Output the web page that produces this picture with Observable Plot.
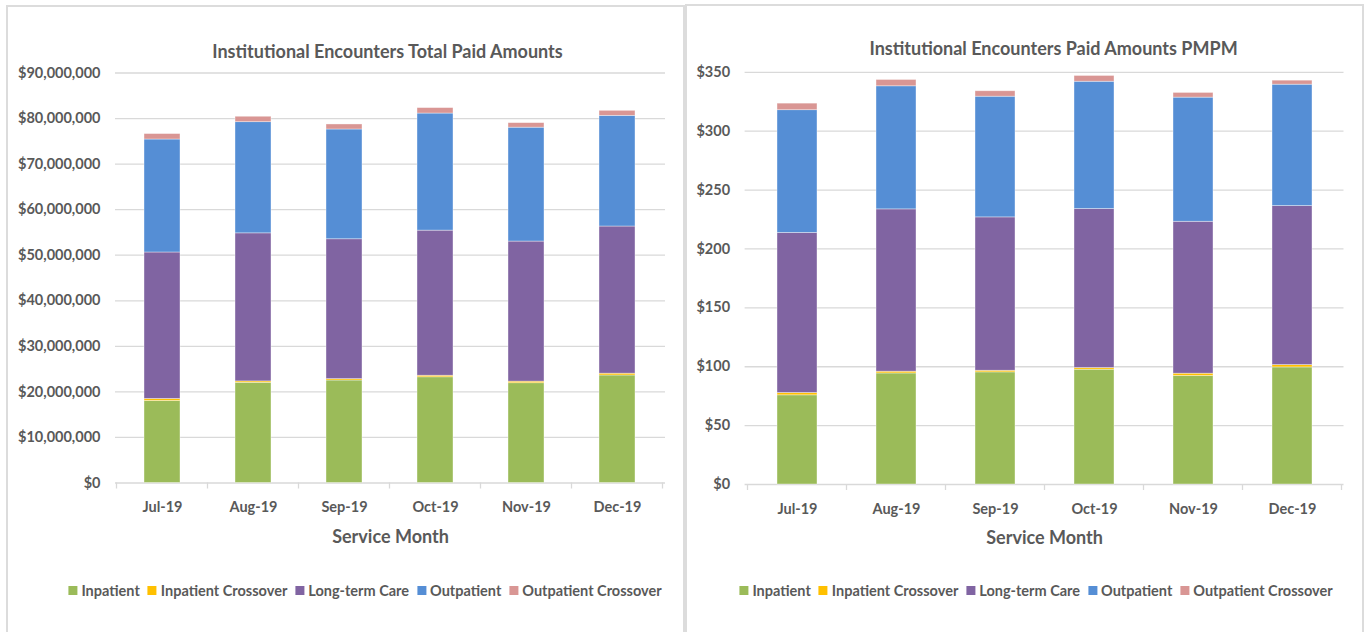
<!DOCTYPE html>
<html><head><meta charset="utf-8">
<script src="https://cdn.jsdelivr.net/npm/d3@7"></script>
<script src="https://cdn.jsdelivr.net/npm/@observablehq/plot@0.6"></script>
<style>
body{margin:0;background:#fff;width:1372px;height:632px;overflow:hidden;position:relative;font-family:Lato,"Open Sans",sans-serif;}
.panel{position:absolute;border:2px solid #dcdcdc;box-sizing:border-box;}
.chart{position:absolute;top:0;}
.legend{position:absolute;top:582px;display:flex;align-items:center;font-weight:700;font-size:14.5px;line-height:17px;color:#595959;white-space:nowrap;transform:translateX(-50%);}
.legend .sw{display:inline-block;width:9px;height:9px;margin-right:4px}
.legend .it{display:inline-flex;align-items:center;margin-right:8px}
.legend .it:last-child{margin-right:0}
</style></head><body>
<div class="panel" style="left:6px;top:5px;width:679px;height:700px"></div>
<div class="panel" style="left:685px;top:4px;width:679px;height:700px"></div>
<div id="c1" class="chart" style="left:0px"></div>
<div id="c2" class="chart" style="left:686px"></div>
<div id="l1" class="legend" style="left:365px"></div>
<div id="l2" class="legend" style="left:1036px"></div>
<script>
const months = ["Jul-19","Aug-19","Sep-19","Oct-19","Nov-19","Dec-19"];
const series = ["Inpatient","Inpatient Crossover","Long-term Care","Outpatient","Outpatient Crossover"];
const colors = ["#9bbb59","#ffc000","#8064a2","#558ed5","#d99694"];

// Total paid amounts (dollars)
const totalInpatient = [18000000, 22000000, 22500000, 23200000, 21900000, 23600000];
const totalInpatientCrossover = [450000, 300000, 300000, 350000, 350000, 400000];
const totalLongTermCare = [32150000, 32500000, 30700000, 31850000, 30750000, 32300000];
const totalOutpatient = [24800000, 24400000, 24100000, 25700000, 25000000, 24300000];
const totalOutpatientCrossover = [1200000, 1200000, 1100000, 1200000, 1000000, 1100000];
const totalTicks = [0,10000000,20000000,30000000,40000000,50000000,60000000,70000000,80000000,90000000];

// PMPM amounts (dollars)
const pmpmInpatient = [75.7, 94.3, 95.2, 97.5, 92.1, 99.4];
const pmpmInpatientCrossover = [2.0, 1.5, 1.4, 1.4, 2.0, 2.0];
const pmpmLongTermCare = [135.9, 137.8, 130.2, 135.0, 129.0, 135.0];
const pmpmOutpatient = [104.2, 104.5, 102.5, 108.1, 105.4, 103.1];
const pmpmOutpatientCrossover = [5.6, 5.4, 4.6, 4.9, 4.0, 3.4];
const pmpmTicks = [0,50,100,150,200,250,300,350];

const FONT = 'Lato, "Open Sans", sans-serif';
const GRID = "#d9d9d9";
const ns = "http://www.w3.org/2000/svg";

function makeChart(cfg) {
  const data = [];
  months.forEach((m, i) => series.forEach((s, j) => data.push({month: m, series: s, value: cfg.values[j][i]})));
  const boundaryTicks = (index, scales) => {
    const x = scales.x, y = scales.y;
    const bw = typeof x.bandwidth === "function" ? x.bandwidth() : x.bandwidth;
    const step = x(months[1]) - x(months[0]);
    const y0 = y(0);
    const g = document.createElementNS(ns, "g");
    const xs = months.map(m => x(m) + bw / 2 - step / 2);
    xs.push(x(months[months.length - 1]) + bw / 2 + step / 2);
    xs.forEach(px => {
      const l = document.createElementNS(ns, "line");
      l.setAttribute("x1", px); l.setAttribute("x2", px);
      l.setAttribute("y1", y0); l.setAttribute("y2", y0 + 6);
      l.setAttribute("stroke", GRID); l.setAttribute("stroke-width", 1.3);
      g.appendChild(l);
    });
    return g;
  };
  return Plot.plot({
    width: cfg.width, height: cfg.height,
    marginLeft: cfg.ml, marginRight: cfg.mr, marginTop: cfg.mt, marginBottom: cfg.mb,
    style: {fontFamily: FONT, color: "#595959", background: "transparent", overflow: "visible"},
    x: {domain: months, paddingInner: 0.6, paddingOuter: 0.3, label: null},
    y: {domain: cfg.domain, label: null},
    color: {domain: series, range: colors},
    marks: [
      Plot.gridY(cfg.ticks, {stroke: GRID, strokeOpacity: 1, strokeWidth: 1.3}),
      boundaryTicks,
      Plot.barY(data, {x: "month", y: "value", fill: "series", stroke: "#fff", strokeWidth: 0.7, strokeOpacity: 0.55}),
      Plot.axisY(cfg.ticks, {tickSize: 0, tickPadding: 15, tickFormat: cfg.fmt, fontSize: 14.5, fontWeight: 700, label: null}),
      Plot.axisX({tickSize: 0, tickPadding: 19, fontSize: 14.5, fontWeight: 700, label: null}),
      Plot.text([cfg.title], {frameAnchor: "top", lineAnchor: "middle", dx: cfg.titleDx, dy: cfg.titleDy, fontSize: 18, fontWeight: 700, fill: "#595959"}),
      Plot.text(["Service Month"], {frameAnchor: "bottom", lineAnchor: "middle", dy: cfg.labelDy, fontSize: 18, fontWeight: 700, fill: "#595959"})
    ]
  });
}

const fmt = d3.format("$,.0f");

document.getElementById("c1").appendChild(makeChart({
  values: [totalInpatient, totalInpatientCrossover, totalLongTermCare, totalOutpatient, totalOutpatientCrossover],
  title: "Institutional Encounters Total Paid Amounts",
  domain: [0, 90000000], ticks: totalTicks, fmt,
  width: 685, height: 560, ml: 115, mr: 20, mt: 72.5, mb: 77.5,
  titleDx: -3, titleDy: -20.5, labelDy: 54.5
}));

document.getElementById("c2").appendChild(makeChart({
  values: [pmpmInpatient, pmpmInpatientCrossover, pmpmLongTermCare, pmpmOutpatient, pmpmOutpatientCrossover],
  title: "Institutional Encounters Paid Amounts PMPM",
  domain: [0, 350], ticks: pmpmTicks, fmt,
  width: 686, height: 560, ml: 58.6, mr: 28.5, mt: 71.8, mb: 76,
  titleDx: 9, titleDy: -22.8, labelDy: 53.5
}));

function legend(id) {
  const el = document.getElementById(id);
  series.forEach((s, i) => {
    const it = document.createElement("span"); it.className = "it";
    const sw = document.createElement("span"); sw.className = "sw"; sw.style.background = colors[i];
    it.appendChild(sw); it.appendChild(document.createTextNode(s));
    el.appendChild(it);
  });
}
legend("l1"); legend("l2");
</script>
</body></html>
